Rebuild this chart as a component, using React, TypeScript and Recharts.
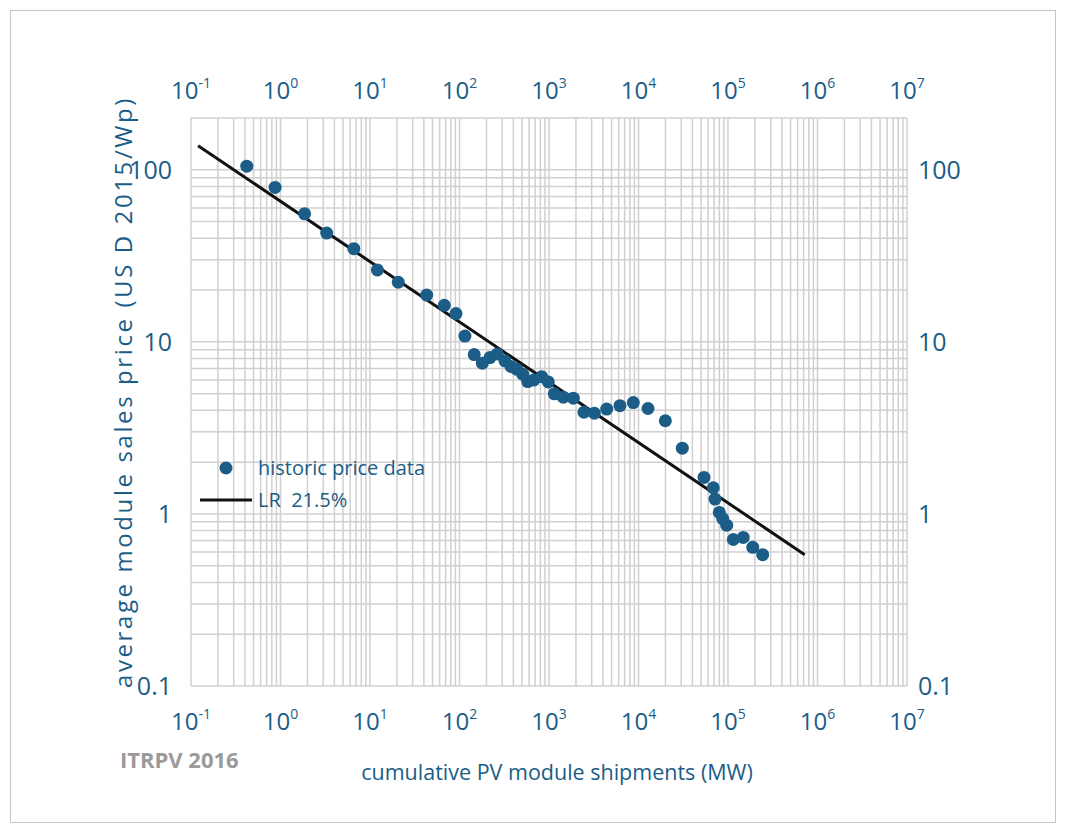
import { ComposedChart, Scatter, XAxis, YAxis, CartesianGrid } from "recharts"

// historic price data (cumulative MW shipped vs. USD 2015/Wp)
const shipmentsMW = [
  0.42, 0.87, 1.86, 3.28, 6.6, 12.1, 20.7, 43, 67.6, 91.4,
  115, 146, 180, 219, 264, 322, 376, 435, 508, 578,
  679, 828, 982, 1146, 1445, 1870, 2460, 3210, 4410, 6210,
  8750, 12770, 19950, 30850, 54000, 68500, 71600, 80000, 87300, 96700,
  114600, 148000, 189000, 244000,
]
const pricePerWp = [
  105, 79, 55.5, 42.9, 34.8, 26.2, 22.2, 18.7, 16.3, 14.6,
  10.8, 8.44, 7.52, 8.1, 8.5, 7.76, 7.2, 6.94, 6.49, 5.88,
  6.01, 6.28, 5.85, 4.99, 4.77, 4.71, 3.9, 3.85, 4.07, 4.26,
  4.44, 4.1, 3.48, 2.41, 1.63, 1.42, 1.22, 1.02, 0.94, 0.86,
  0.71, 0.73, 0.64, 0.58,
]

// learning rate 21.5% fit, end points
const lrShipments = [0.12, 720000]
const lrPrice = [138, 0.58]

const xDecades = [0.1, 1, 10, 100, 1000, 10000, 100000, 1000000, 10000000]
const xExponents = ["-1", "0", "1", "2", "3", "4", "5", "6", "7"]
const yTicks = [0.1, 1, 10, 100]
const yTickLabels = ["0.1", "1", "10", "100"]

const historic = shipmentsMW.map((x, i) => ({ x, y: pricePerWp[i] }))
const lrLine = lrShipments.map((x, i) => ({ x, y: lrPrice[i] }))

const steps = [1, 2, 3, 4, 5, 6, 7, 8, 9]
const xGrid = xDecades.slice(0, -1).flatMap((d) => steps.map((m) => d * m)).concat([1e7])
const yGrid = yTicks.flatMap((d) => steps.map((m) => d * m)).filter((v) => v <= 200)

const BLUE = "#1b5d87"
const FONT = "'Open Sans', sans-serif"

function PowerTick({ x, y, payload, top }: any) {
  const i = xDecades.indexOf(payload.value)
  const base = top ? y - 19 : y + 44
  return (
    <text x={x} y={base} textAnchor="middle" fill={BLUE} fontFamily={FONT} fontSize={24}>
      <tspan>10</tspan>
      <tspan dy={-11} fontSize={14}>{xExponents[i]}</tspan>
    </text>
  )
}

function PriceTick({ x, y, payload, right }: any) {
  const i = yTicks.indexOf(payload.value)
  return (
    <text
      x={right ? x + 11 : x - 19}
      y={y}
      dy="0.36em"
      textAnchor={right ? "start" : "end"}
      fill={BLUE}
      fontFamily={FONT}
      fontSize={25}
    >
      {yTickLabels[i]}
    </text>
  )
}

const Dot = (props: any) => <circle cx={props.cx} cy={props.cy} r={6.5} fill={BLUE} />

export default function App() {
  return (
    <div style={{ position: "absolute", left: 0, top: 0, width: 1065, height: 832, background: "#fff", fontFamily: FONT }}>
      <div style={{ position: "absolute", left: 10, top: 10, width: 1044, height: 811, border: "1px solid #c4c4c4" }} />
      <ComposedChart
        width={1065}
        height={832}
        margin={{ top: 78, left: 131, right: 98, bottom: 106 }}
        style={{ position: "absolute", left: 0, top: 0 }}
      >
        <CartesianGrid
          xAxisId="b"
          yAxisId="l"
          stroke="#d0d0d0"
          strokeWidth={1.5}
          verticalValues={xGrid}
          horizontalValues={yGrid}
        />
        <XAxis
          xAxisId="b"
          type="number"
          dataKey="x"
          scale="log"
          domain={[0.1, 1e7]}
          allowDataOverflow
          ticks={xDecades}
          interval={0}
          height={40}
          axisLine={false}
          tickLine={false}
          tickSize={0}
          tickMargin={0}
          tick={<PowerTick />}
        />
        <XAxis
          xAxisId="t"
          orientation="top"
          type="number"
          dataKey="x"
          scale="log"
          domain={[0.1, 1e7]}
          allowDataOverflow
          ticks={xDecades}
          interval={0}
          height={40}
          axisLine={false}
          tickLine={false}
          tickSize={0}
          tickMargin={0}
          tick={<PowerTick top />}
        />
        <YAxis
          yAxisId="l"
          type="number"
          dataKey="y"
          scale="log"
          domain={[0.1, 200]}
          allowDataOverflow
          ticks={yTicks}
          interval={0}
          width={60}
          axisLine={false}
          tickLine={false}
          tickSize={0}
          tickMargin={0}
          tick={<PriceTick />}
        />
        <YAxis
          yAxisId="r"
          orientation="right"
          type="number"
          dataKey="y"
          scale="log"
          domain={[0.1, 200]}
          allowDataOverflow
          ticks={yTicks}
          interval={0}
          width={60}
          axisLine={false}
          tickLine={false}
          tickSize={0}
          tickMargin={0}
          tick={<PriceTick right />}
        />
        <Scatter
          xAxisId="b"
          yAxisId="l"
          data={lrLine}
          line={{ stroke: "#111", strokeWidth: 3 }}
          shape={() => null}
          isAnimationActive={false}
        />
        <Scatter xAxisId="b" yAxisId="l" data={historic} shape={<Dot />} isAnimationActive={false} />
      </ComposedChart>

      <svg width={1065} height={832} style={{ position: "absolute", left: 0, top: 0, pointerEvents: "none" }}>
        <text
          x={132}
          y={392}
          transform="rotate(-90 132 392)"
          textAnchor="middle"
          fill={BLUE}
          fontFamily={FONT}
          fontSize={24}
          letterSpacing={2.6}
        >
          average module sales price (US D 2015/Wp)
        </text>
        <text x={557} y={780} textAnchor="middle" fill={BLUE} fontFamily={FONT} fontSize={21.5}>
          cumulative PV module shipments (MW)
        </text>
        <text x={120} y={768} fill="#9a9a9a" fontFamily={FONT} fontSize={22} fontWeight="bold">
          ITRPV 2016
        </text>
        <circle cx={226} cy={468} r={6.5} fill={BLUE} />
        <text x={258} y={475} fill={BLUE} fontFamily={FONT} fontSize={20}>
          historic price data
        </text>
        <line x1={200} y1={500} x2={252} y2={500} stroke="#111" strokeWidth={3} />
        <text x={258} y={507} fill={BLUE} fontFamily={FONT} fontSize={20} style={{ whiteSpace: "pre" }}>
          LR  21.5%
        </text>
      </svg>
    </div>
  )
}
